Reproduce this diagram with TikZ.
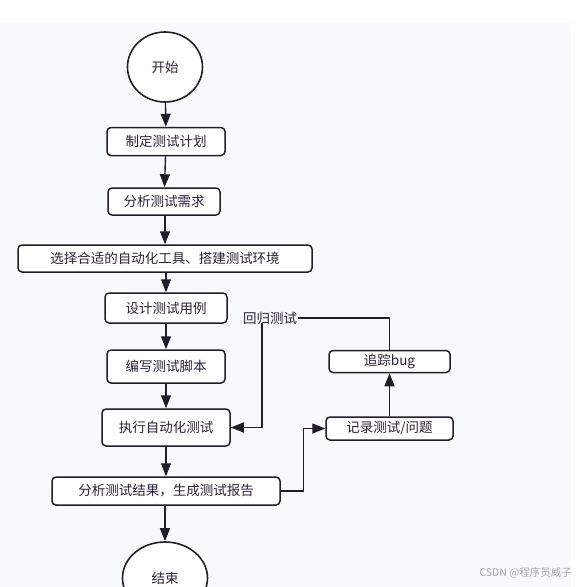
\documentclass[tikz,border=0pt]{standalone}
\usepackage{fontspec}
\setmainfont{Noto Sans CJK SC}
\usetikzlibrary{arrows.meta,shapes.geometric}
\definecolor{bgc}{HTML}{F8F9FC}
\definecolor{inkc}{HTML}{231D2B}
\definecolor{txtc}{HTML}{2B2238}
\definecolor{wmc}{HTML}{A8A8AC}
\tikzset{
  box/.style={draw=inkc, line width=1.5pt, rounded corners=4pt, fill=white, text=txtc, inner sep=0pt, align=center, font=\fontsize{13.5}{16}\selectfont},
  term/.style={draw=inkc, line width=1.6pt, ellipse, fill=white, text=txtc, inner sep=0pt, font=\fontsize{13.5}{16}\selectfont},
  conn/.style={draw=inkc, line width=1.4pt},
  arr/.style={conn, -{Triangle[length=13pt,width=10pt]}},
  lbl/.style={text=txtc, inner sep=0pt, font=\fontsize{13.5}{16}\selectfont},
}
\begin{document}
\begin{tikzpicture}[x=1pt,y=-1pt]
\useasboundingbox (0,0) rectangle (576,587);
\clip (0,0) rectangle (576,587);
\fill[white] (0,0) rectangle (576,587);
\fill[bgc] (0,23) rectangle (571,587);
\node[term, minimum width=75pt, minimum height=70pt] (start) at (165,67) {开始};
\node[box, minimum width=118pt, minimum height=28pt] (plan) at (166,141.5) {制定测试计划};
\node[box, minimum width=112pt, minimum height=27pt] (req) at (164,201.5) {分析测试需求};
\node[box, minimum width=294pt, minimum height=27pt] (tool) at (165,258.5) {选择合适的自动化工具、搭建测试环境};
\node[box, minimum width=122pt, minimum height=30pt] (design) at (166,308) {设计测试用例};
\node[box, minimum width=118pt, minimum height=33pt] (script) at (166,366.5) {编写测试脚本};
\node[box, minimum width=128pt, minimum height=37pt] (exec) at (166,427.5) {执行自动化测试};
\node[box, minimum width=228pt, minimum height=28pt] (report) at (166,491) {分析测试结果，生成测试报告};
\node[term, minimum width=85pt, minimum height=72pt] (end) at (165,578) {结束};
\node[box, minimum width=121pt, minimum height=22pt] (bug) at (389.5,361.5) {追踪bug};
\node[box, minimum width=127pt, minimum height=23pt] (rec) at (389.5,428.5) {记录测试/问题};
\node[lbl, minimum height=14pt] (regr) at (270,318) {回归测试};
\draw[arr] (start) -- (plan);
\draw[arr] (plan) -- (req);
\draw[arr] (req.south -| tool.north) -- (tool);
\draw[arr] (tool.south -| design.north) -- (design);
\draw[arr] (design) -- (script);
\draw[arr] (script) -- (exec);
\draw[arr] (exec) -- (report);
\draw[arr] (report.south -| end.north) -- (end);
\draw[arr] (rec) -- (bug);
\draw[conn] (bug.north) |- ([xshift=1pt]regr.east);
\draw[arr] ([xshift=-8pt,yshift=2pt]regr.south) |- (exec.east);
\draw[arr] (report.east) -- ++(23,0) |- (rec.west);
\node[text=wmc, inner sep=0pt, font=\fontsize{10.5}{12}\selectfont, anchor=east] (wm) at (572,573) {CSDN @程序员威子};
\end{tikzpicture}
\end{document}
